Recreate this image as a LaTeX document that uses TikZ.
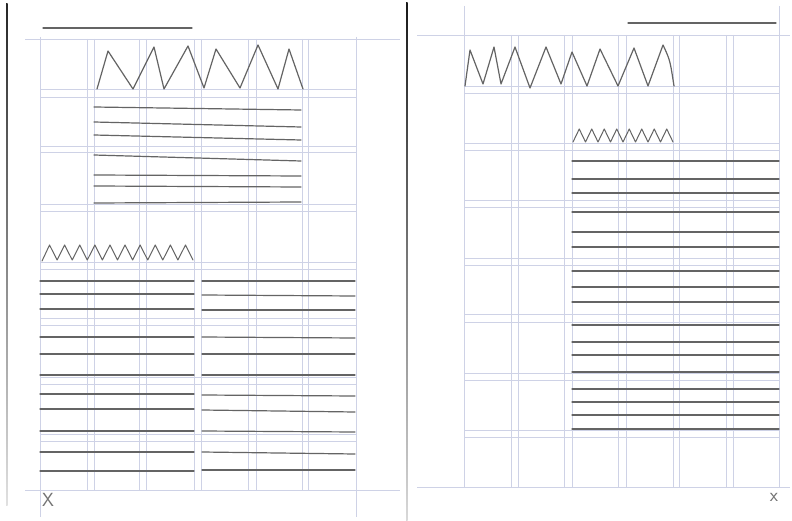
\documentclass[tikz,border=0pt]{standalone}
\usepackage{tikz}
\definecolor{gridblue}{RGB}{206,210,230}
\definecolor{pencil}{RGB}{100,100,100}
\tikzset{
  gridline/.style={draw=gridblue, line width=0.6pt},
  pencilline/.style={draw=pencil, line width=1.2pt, line cap=round, line join=round},
  thinpencil/.style={draw=pencil, line width=1.0pt, line cap=round, line join=round},
  xmark/.style={text=black!55, font=\sffamily\fontsize{19}{20}\selectfont, inner sep=0pt},
}
\begin{document}
\begin{tikzpicture}[x=1pt,y=-1pt]
\useasboundingbox (0,0) rectangle (792,521);
\fill[white] (0,0) rectangle (792,521);

% ---------- page edges ----------
\shade[top color=black!85, bottom color=black!12] (6.2,4) rectangle (7.6,505);
\shade[top color=black!90, bottom color=black!15] (406.2,3) rectangle (407.6,521);

% ---------- LEFT PAGE GRID ----------
\draw[gridline] (25,39) -- (400,39);
\draw[gridline] (25,490) -- (400,490);
\foreach \t/\b in {89/97,146/152,204/211,262/269,318/325,377/384,434/441}{
  \draw[gridline] (40,\t) -- (356,\t);
  \draw[gridline] (40,\b) -- (356,\b);
}
\foreach \x in {87,94,139,146,194,201,248,256,302,308}{
  \draw[gridline] (\x,39) -- (\x,490);
}
\draw[gridline] (40,37) -- (40,517);
\draw[gridline] (356,37) -- (356,517);

% ---------- RIGHT PAGE GRID ----------
\draw[gridline] (417,35) -- (790,35);
\draw[gridline] (417,487) -- (790,487);
\foreach \t/\b in {86/93,143/150,200/207,258/265,314/322,373/380,430/437}{
  \draw[gridline] (464,\t) -- (779,\t);
  \draw[gridline] (464,\b) -- (779,\b);
}
\foreach \x in {511,518,564,572,618,626,673,679,726,733}{
  \draw[gridline] (\x,35) -- (\x,487);
}
\draw[gridline] (464,6) -- (464,487);
\draw[gridline] (779,6) -- (779,487);

% ---------- LEFT PAGE SKETCH ----------
% title rule
\draw[pencilline] (43,28) -- (192,28);
% large zigzag
\draw[pencilline] (97,89) -- (108,51) -- (133,89) -- (154,47) -- (164,89) -- (188,46)
  -- (204,88) -- (216,49) -- (240,88) -- (258,45) -- (278,89) -- (289,49) -- (303,89);
% upper text block
\foreach \l/\r in {107/110,122/127,135/140,155/161,175/176,186/187,203/202}{
  \draw[pencilline] (94,\l) -- (301,\r);
}
% small zigzag
\draw[thinpencil] (42,261) \foreach \i in {0,...,9}{ -- ({42+15.1*\i+7.55},245) -- ({42+15.1*(\i+1)},260)};
% two-column text block
\foreach \l/\r in {281/281,294/294,309/309,337/337,354/354,375/375,394/394,409/409,431/431,452/452,471/471}{
  \draw[pencilline] (40,\l) -- (194,\r);
}
\foreach \l/\r in {281/281,295/296,310/310,337/338,354/354,375/375,395/396,410/412,431/432,452/454,470/470}{
  \draw[pencilline] (202,\l) -- (355,\r);
}
\node[xmark] (xleft) at (48,500) {X};

% ---------- RIGHT PAGE SKETCH ----------
\draw[pencilline] (628,23) -- (776,23);
\draw[pencilline] (465,86) -- (470,50) -- (483,84) -- (494,47) -- (501,84) -- (515,47)
  -- (530,88) -- (546,47) -- (561,84) -- (572,52) -- (587,86) -- (600,49) -- (618,86)
  -- (634,48) -- (648,86) -- (663,45) .. controls (670,60) .. (674,86);
\draw[thinpencil] (573,142) \foreach \i in {0,...,7}{ -- ({573+12.5*\i+6.25},129) -- ({573+12.5*(\i+1)},142)};
\foreach \y in {161,179,193,212,232,247,271,287,302,325,342,355,372,389,402,415,429}{
  \draw[pencilline] (572,\y) -- (779,\y);
}
\node[xmark] (xright) at (774,497) {x};
\end{tikzpicture}
\end{document}
